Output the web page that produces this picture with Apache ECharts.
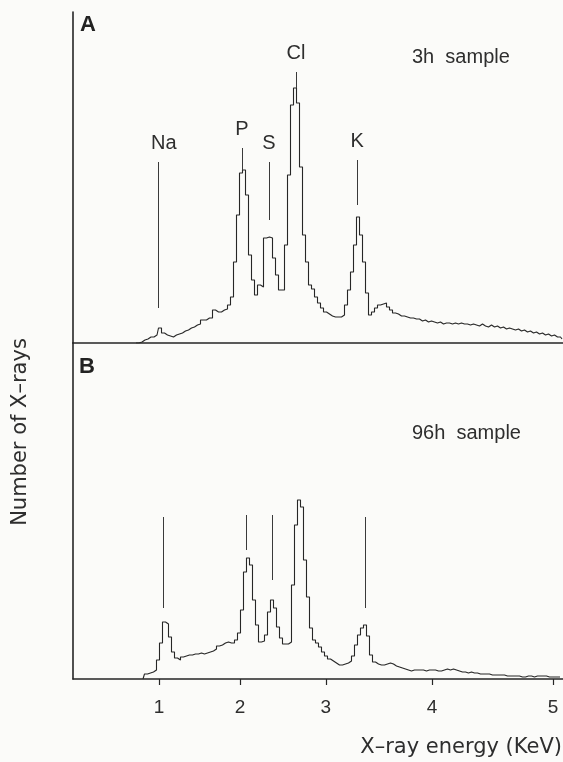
<!DOCTYPE html>
<html><head><meta charset="utf-8">
<script src="https://cdn.jsdelivr.net/npm/echarts@6/dist/echarts.min.js"></script>
<style>html,body{margin:0;padding:0;background:#fbfbf9}#c{width:563px;height:762px}</style>
</head><body><div id="c"></div>
<script>
// X axis is in detector channel units (as printed, the keV scale is not linear)
const axisMaxChannel = 163.33;
const tickChannels = [28.7, 55.7, 84.3, 119.7, 160];
const tickLabels = ['1', '2', '3', '4', '5'];

// Panel A: 3h sample (counts, arbitrary units), one value per channel
const startChannelA = 21;
const countsA = [
  0, 0, 1, 3, 4, 6, 6, 8, 15, 10,
  8, 7, 6, 8, 9, 10, 12, 13, 15, 16,
  18, 19, 23, 23, 25, 25, 33, 31, 31, 33,
  34, 38, 46, 81, 128, 170, 173, 148, 88, 63,
  48, 58, 56, 105, 106, 105, 85, 68, 53, 53,
  98, 168, 238, 255, 240, 176, 108, 81, 58, 54,
  46, 40, 35, 31, 29, 27, 26, 26, 26, 28,
  38, 53, 71, 98, 126, 108, 81, 50, 28, 31,
  35, 38, 39, 40, 36, 33, 30, 29, 27, 27,
  26, 25, 25, 24, 24, 22, 23, 21, 22, 21,
  20, 21, 19, 20, 20, 19, 20, 19, 20, 19,
  19, 18, 19, 18, 17, 19, 17, 16, 18, 16,
  17, 15, 16, 14, 15, 14, 13, 14, 12, 13,
  11, 12, 10, 11, 9, 10, 8, 9, 7, 8,
  6, 6, 4
];

// Panel B: 96h sample
const startChannelB = 23.33;
const countsB = [
  0, 5, 6, 7, 9, 19, 36, 57, 55, 42,
  27, 21, 19, 22, 23, 24, 24, 25, 25, 26,
  25, 26, 27, 28, 30, 33, 34, 36, 37, 36,
  36, 39, 46, 69, 107, 121, 114, 79, 54, 37,
  38, 44, 67, 79, 71, 52, 41, 35, 35, 37,
  94, 154, 179, 172, 119, 82, 51, 39, 36, 32,
  27, 23, 20, 18, 16, 14, 14, 15, 16, 18,
  23, 34, 44, 51, 54, 43, 24, 17, 15, 14,
  14, 15, 16, 15, 13, 12, 11, 10, 9, 8,
  9, 9, 9, 9, 8, 9, 9, 9, 8, 8,
  9, 10, 9, 10, 9, 8, 7, 7, 6, 7,
  6, 6, 5, 5, 5, 5, 4, 4, 4, 4,
  4, 3, 3, 3, 3, 3, 2, 2, 3, 3,
  2, 3, 3, 3, 3, 2, 2, 2, 2, 2
];

// Element marker lines
const elementNames = ['Na', 'P', 'S', 'Cl', 'K'];
const markerChannelA = [28.3, 56.3, 65.3, 74.3, 94.7];
const markerLowA = [35, 173, 123, 255, 138];
const markerHighA = [181, 195, 181, 271, 183];
const markerChannelB = [30, 57.7, 66.3, 97.3];
const markerLowB = [71, 129, 99, 71];
const markerHighB = [162, 164, 164, 162];

const panelLabels = ['A', 'B'];
const sampleLabels = ['3h  sample', '96h  sample'];
const xTitle = 'X\u2013ray energy (KeV)';
const yTitle = 'Number of X\u2013rays';

const INK = '#262626';
const TXT = '#2e2e2e';
const SANS = '"Liberation Sans", Arial, Helvetica, sans-serif';
const WIDE = '"DejaVu Sans", "Liberation Sans", sans-serif';

const chart = echarts.init(document.getElementById('c'), null, {renderer: 'canvas'});

function xAxisBase(grid) {
  return {
    gridIndex: grid, type: 'value', min: 0, max: axisMaxChannel,
    axisLine: {show: true, onZero: false, lineStyle: {color: INK, width: 1.6}},
    axisTick: {show: false}, axisLabel: {show: false}, splitLine: {show: false}
  };
}
function yAxisBase(grid, max) {
  return {
    gridIndex: grid, type: 'value', min: 0, max: max,
    axisLine: {show: true, onZero: false, lineStyle: {color: INK, width: 1.6}},
    axisTick: {show: false}, axisLabel: {show: false}, splitLine: {show: false}
  };
}
const xB = xAxisBase(1);
xB.axisTick = {show: true, customValues: tickChannels, length: 6, inside: false, lineStyle: {color: INK, width: 1.2}};
xB.axisLabel = {
  show: true, customValues: tickChannels, margin: 19,
  fontSize: 19, fontFamily: SANS, color: TXT,
  formatter: function (v) {
    let best = 0;
    for (let i = 1; i < tickChannels.length; i++) {
      if (Math.abs(tickChannels[i] - v) < Math.abs(tickChannels[best] - v)) best = i;
    }
    return tickLabels[best];
  }
};

function spectrum(data, start) {
  return data.map((v, i) => [start + i, v]);
}

const option = {
  animation: false,
  backgroundColor: '#fbfbf9',
  grid: [
    {left: 73, top: 12, width: 490, height: 331},
    {left: 73, top: 343, width: 490, height: 336}
  ],
  xAxis: [xAxisBase(0), xB],
  yAxis: [yAxisBase(0, 331), yAxisBase(1, 336)],
  series: [
    {
      name: '3h sample', type: 'line', xAxisIndex: 0, yAxisIndex: 0,
      data: spectrum(countsA, startChannelA), step: 'middle',
      showSymbol: false, symbol: 'none', silent: true,
      lineStyle: {color: INK, width: 1.1}, emphasis: {disabled: true},
      markLine: {
        silent: true, symbol: ['none', 'none'], animation: false,
        lineStyle: {color: '#3a3a3a', width: 1, type: 'solid'},
        emphasis: {disabled: true},
        label: {show: true, position: 'end', distance: 9, formatter: '{b}',
                fontSize: 20, fontFamily: SANS, color: TXT},
        data: elementNames.map((n, i) => [
          {coord: [markerChannelA[i], markerLowA[i]], name: n,
           label: i === 0 ? {padding: [0, 0, 0, 12]} : {}},
          {coord: [markerChannelA[i], markerHighA[i]]}
        ])
      }
    },
    {
      name: '96h sample', type: 'line', xAxisIndex: 1, yAxisIndex: 1,
      data: spectrum(countsB, startChannelB), step: 'middle',
      showSymbol: false, symbol: 'none', silent: true,
      lineStyle: {color: INK, width: 1.1}, emphasis: {disabled: true},
      markLine: {
        silent: true, symbol: ['none', 'none'], animation: false,
        lineStyle: {color: '#3a3a3a', width: 1, type: 'solid'},
        emphasis: {disabled: true},
        label: {show: false},
        data: markerChannelB.map((c, i) => [
          {coord: [c, markerLowB[i]]},
          {coord: [c, markerHighB[i]]}
        ])
      }
    }
  ],
  graphic: [
    {type: 'text', x: 88, y: 25, style: {text: panelLabels[0], font: 'bold 22px ' + SANS, fill: '#222',
      textAlign: 'center', textVerticalAlign: 'middle', align: 'center', verticalAlign: 'middle'}},
    {type: 'text', x: 87, y: 367, style: {text: panelLabels[1], font: 'bold 22px ' + SANS, fill: '#222',
      textAlign: 'center', textVerticalAlign: 'middle', align: 'center', verticalAlign: 'middle'}},
    {type: 'text', x: 412, y: 57, style: {text: sampleLabels[0], font: '20px ' + SANS, fill: TXT,
      textAlign: 'left', textVerticalAlign: 'middle', align: 'left', verticalAlign: 'middle'}},
    {type: 'text', x: 412, y: 433, style: {text: sampleLabels[1], font: '20px ' + SANS, fill: TXT,
      textAlign: 'left', textVerticalAlign: 'middle', align: 'left', verticalAlign: 'middle'}},
    {type: 'text', x: 562, y: 748, style: {text: xTitle, font: '21px ' + WIDE, fill: TXT,
      textAlign: 'right', textVerticalAlign: 'middle', align: 'right', verticalAlign: 'middle'}},
    {type: 'text', x: 21, y: 432, rotation: Math.PI / 2, style: {text: yTitle, font: '21px ' + WIDE, fill: TXT,
      textAlign: 'center', textVerticalAlign: 'middle', align: 'center', verticalAlign: 'middle'}}
  ]
};
chart.setOption(option);
</script></body></html>
